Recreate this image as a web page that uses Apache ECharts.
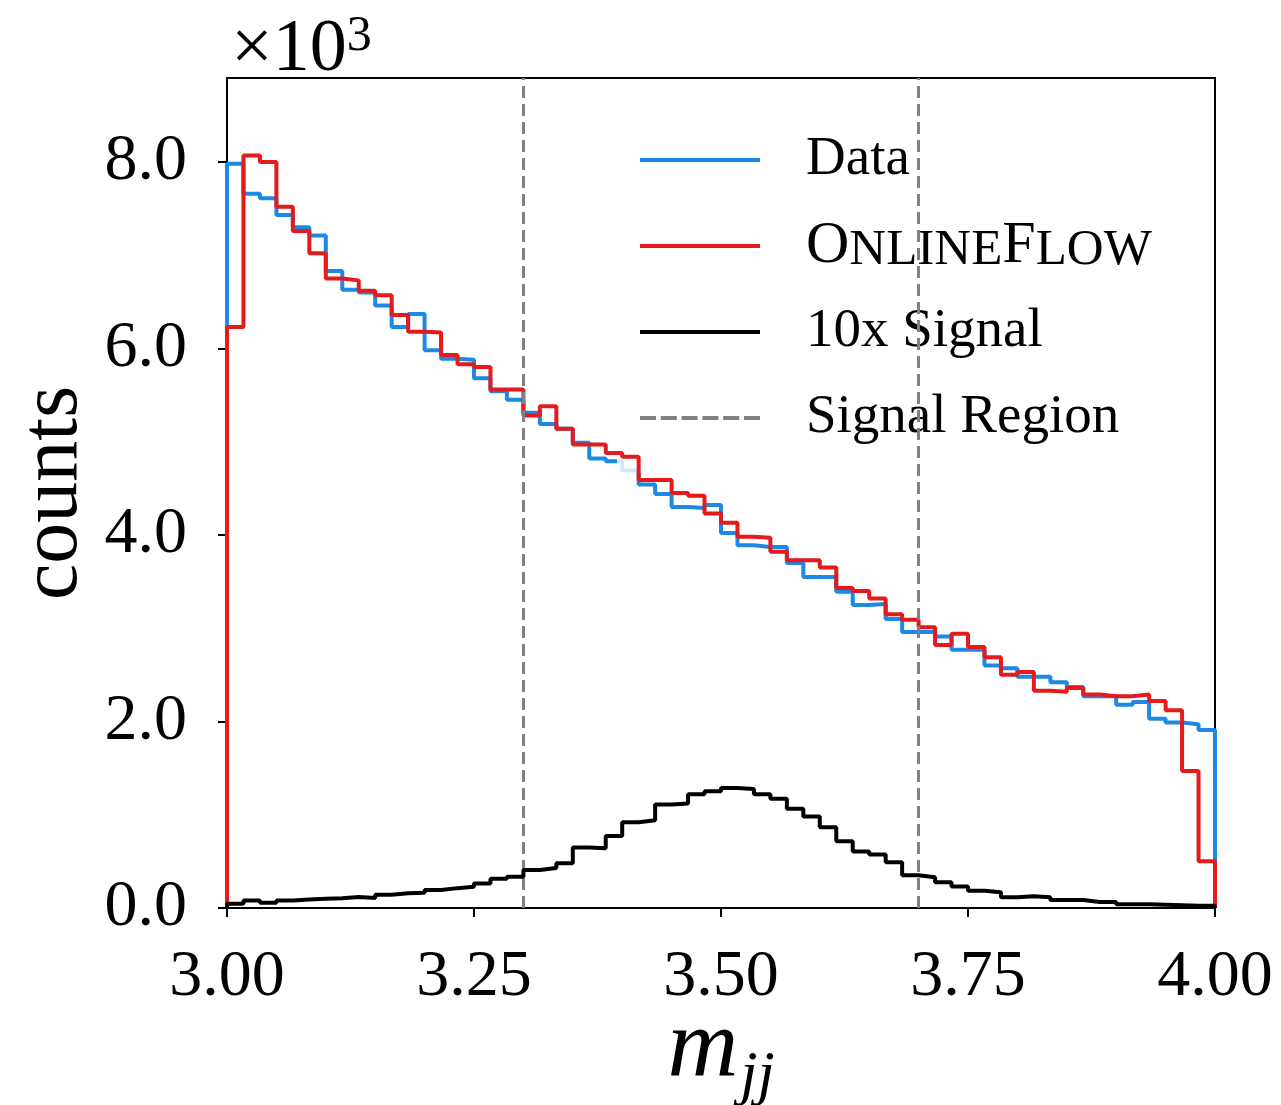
<!DOCTYPE html>
<html><head><meta charset="utf-8">
<script src="https://cdn.jsdelivr.net/npm/echarts@6/dist/echarts.min.js"></script>
<style>html,body{margin:0;padding:0;background:#fff}#c{width:1281px;height:1105px}</style>
</head><body><div id="c"></div>
<script>
// Histogram binning (m_jj in TeV): 60 equal bins from 3.0 to 4.0
const binLow = 3.0, binHigh = 4.0;
const xTicks = [3.0, 3.25, 3.5, 3.75, 4.0];
const yTicks = [0, 2000, 4000, 6000, 8000];
const signalRegion = [3.3, 3.7];
const legendNames = ['Data', 'OnlineFlow', '10x Signal', 'Signal Region'];

const dataCounts = [7980, 7660, 7610, 7430, 7300, 7210, 6830, 6630, 6600, 6460,
  6230, 6370, 5980, 5890, 5880, 5680, 5540, 5450, 5310, 5190,
  5140, 4990, 4820, 4790, 4690, 4540, 4440, 4300, 4290, 4320,
  4020, 3890, 3870, 3870, 3700, 3550, 3550, 3390, 3250, 3260,
  3100, 2960, 2960, 2910, 2770, 2770, 2600, 2570, 2480, 2480,
  2420, 2370, 2270, 2270, 2180, 2210, 2030, 1990, 1970, 1910];

const onlineFlowCounts = [6230, 8070, 8000, 7520, 7260, 7020, 6750, 6730, 6620, 6570,
  6360, 6180, 6170, 5930, 5830, 5800, 5560, 5560, 5280, 5380,
  5140, 4970, 4970, 4880, 4840, 4590, 4590, 4450, 4420, 4230,
  4130, 3980, 3970, 3820, 3730, 3730, 3650, 3430, 3400, 3320,
  3150, 3090, 3010, 2820, 2940, 2800, 2690, 2500, 2530, 2330,
  2320, 2360, 2290, 2270, 2270, 2290, 2220, 2120, 1470, 500];

const signal10xCounts = [45, 80, 55, 80, 90, 98, 104, 118, 108, 143,
  157, 163, 193, 213, 229, 263, 313, 336, 408, 428,
  480, 650, 640, 773, 920, 940, 1110, 1120, 1220, 1252,
  1287, 1275, 1220, 1172, 1064, 980, 865, 715, 605, 575,
  490, 350, 330, 275, 230, 185, 170, 115, 125, 115,
  85, 85, 65, 65, 40, 40, 35, 30, 25, 25];

function stepPoints(vals) {
  const w = (binHigh - binLow) / vals.length;
  const pts = [[binLow, 0]];
  vals.forEach((v, i) => pts.push([binLow + i * w, v]));
  pts.push([binHigh, vals[vals.length - 1]]);
  pts.push([binHigh, 0]);
  return pts;
}

const FF = 'Liberation Serif';
const LW = 4;
const solidIcon = 'path://M0,0H120V4H0Z';
const dashIcon = 'path://M0,0H16V4H0Z M20.8,0H36.8V4H20.8Z M41.6,0H57.6V4H41.6Z M62.4,0H78.4V4H62.4Z M83.2,0H99.2V4H83.2Z M104,0H120V4H104Z';

const chart = echarts.init(document.getElementById('c'), null, {renderer: 'canvas'});
const histLine = (name, vals, color, z) => ({
  name, type: 'line', step: 'end', data: stepPoints(vals), symbol: 'none', showSymbol: false,
  clip: false, z, color, itemStyle: {color}, lineStyle: {color, width: LW}, emphasis: {disabled: true}
});

chart.setOption({
  animation: false,
  backgroundColor: '#fff',
  grid: {left: 227, right: 66, top: 78, bottom: 197, show: true, borderColor: '#000', borderWidth: 2,
    backgroundColor: 'transparent', containLabel: false, outerBoundsMode: 'none'},
  xAxis: {
    type: 'value', min: 3, max: 4, interval: 0.25,
    axisLine: {show: true, lineStyle: {color: '#000', width: 2}},
    axisTick: {show: true, length: 9, lineStyle: {color: '#000', width: 2}, customValues: xTicks},
    axisLabel: {color: '#000', fontFamily: FF, fontSize: 66, margin: 37, customValues: xTicks,
      formatter: v => v.toFixed(2)},
    splitLine: {show: false},
    name: '{m|m}{s|jj}', nameLocation: 'middle', nameGap: 102, nameMoveOverlap: false,
    nameTextStyle: {rich: {
      m: {fontFamily: FF, fontStyle: 'italic', fontSize: 98, lineHeight: 98, color: '#000', verticalAlign: 'bottom', padding: [0, 2, 10, 0]},
      s: {fontFamily: FF, fontStyle: 'italic', fontSize: 62, lineHeight: 62, color: '#000', verticalAlign: 'bottom'}
    }}
  },
  yAxis: {
    type: 'value', min: 0, max: 8900, interval: 2000,
    axisLine: {show: true, lineStyle: {color: '#000', width: 2}},
    axisTick: {show: true, length: 9, lineStyle: {color: '#000', width: 2}, customValues: yTicks},
    axisLabel: {color: '#000', fontFamily: FF, fontSize: 66, margin: 40, customValues: yTicks,
      formatter: v => (v / 1000).toFixed(1)},
    splitLine: {show: false},
    name: 'counts', nameLocation: 'middle', nameGap: 132, nameMoveOverlap: false,
    nameTextStyle: {fontFamily: FF, fontSize: 82, color: '#000'}
  },
  legend: {
    orient: 'vertical', left: 617, top: 118, padding: [12, 24, 25, 23],
    itemWidth: 120, itemHeight: 4, itemGap: 26,
    backgroundColor: 'rgba(255,255,255,0.8)',
    data: [
      {name: legendNames[0], icon: solidIcon},
      {name: legendNames[1], icon: solidIcon},
      {name: legendNames[2], icon: solidIcon},
      {name: legendNames[3], icon: dashIcon}
    ],
    formatter: name => name === 'OnlineFlow' ? '{big|O}{sc|NLINE}{big|F}{sc|LOW}' : name,
    textStyle: {fontFamily: FF, fontSize: 55, color: '#000', lineHeight: 60, padding: [0, 0, 0, 41],
      rich: {
        big: {fontFamily: FF, fontSize: 60, lineHeight: 60, color: '#000', verticalAlign: 'bottom'},
        sc: {fontFamily: FF, fontSize: 51, lineHeight: 57, color: '#000', verticalAlign: 'bottom'}
      }}
  },
  graphic: [{
    type: 'text', left: 231, top: 12, z: 10,
    style: {text: '{a|×10}{b|3}', rich: {
      a: {fontFamily: FF, fontSize: 74, lineHeight: 76, fill: '#000', verticalAlign: 'bottom'},
      b: {fontFamily: FF, fontSize: 50, lineHeight: 76, fill: '#000', verticalAlign: 'top', padding: [0, 0, 26, 0]}
    }}
  }],
  series: [
    {
      name: 'Signal Region', type: 'line', data: [], z: 1, color: '#808080', itemStyle: {color: '#808080'},
      lineStyle: {color: '#808080', width: 3, type: [12, 6]},
      markLine: {silent: true, symbol: ['none', 'none'], label: {show: false},
        lineStyle: {color: '#808080', width: 3, type: [12, 6]},
        emphasis: {disabled: true},
        data: signalRegion.map(x => ({xAxis: x}))}
    },
    histLine('Data', dataCounts, '#1E88E5', 3),
    histLine('OnlineFlow', onlineFlowCounts, '#E41A1C', 4),
    histLine('10x Signal', signal10xCounts, '#000000', 5)
  ]
});
</script></body></html>
